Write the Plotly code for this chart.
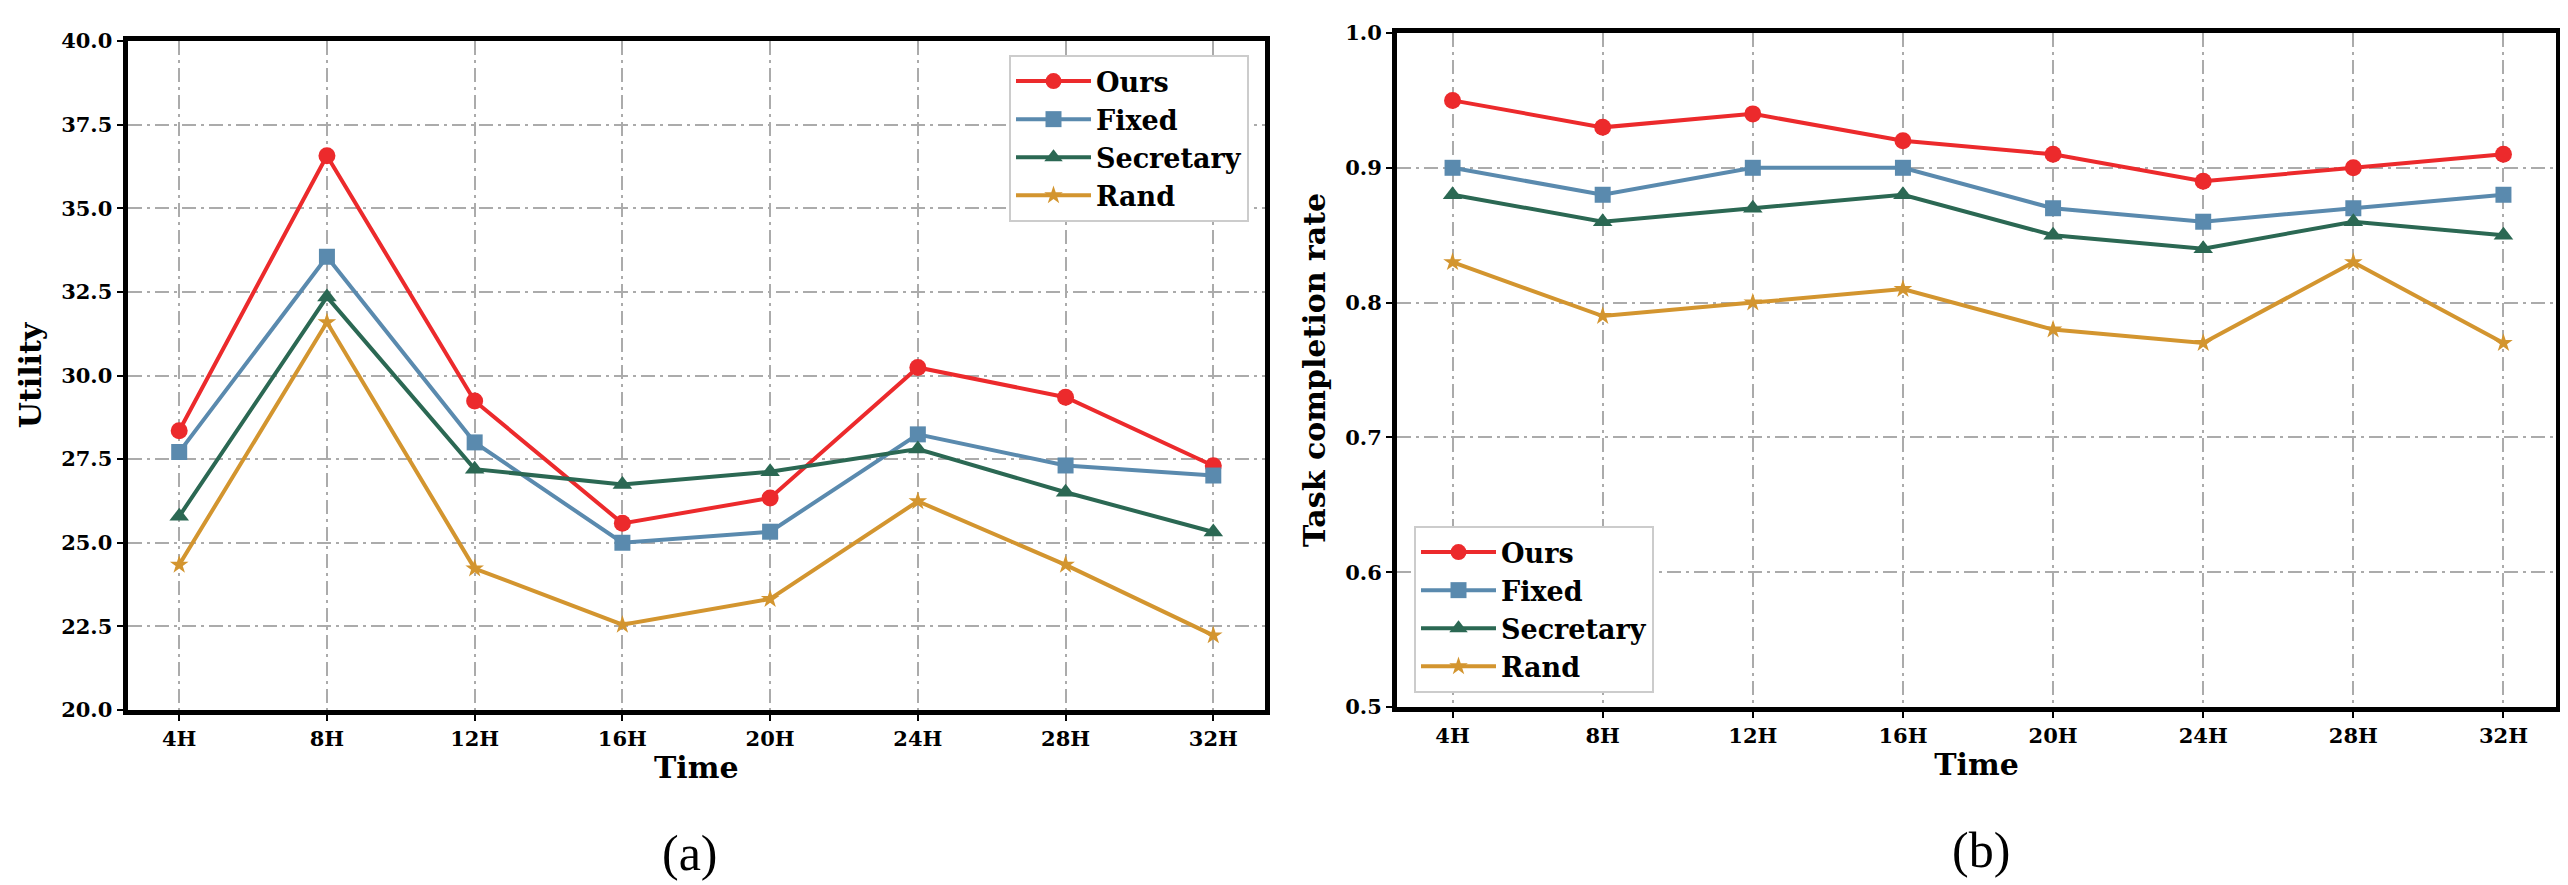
import plotly.graph_objects as go

times = ["4H", "8H", "12H", "16H", "20H", "24H", "28H", "32H"]
series_names = ["Ours", "Fixed", "Secretary", "Rand"]

# (a) Utility
util_ours = [28.35, 36.57, 29.24, 25.58, 26.34, 30.24, 29.35, 27.3]
util_fixed = [27.71, 33.55, 28.0, 25.0, 25.33, 28.24, 27.31, 27.01]
util_secretary = [25.79, 32.35, 27.2, 26.74, 27.12, 27.8, 26.51, 25.32]
util_rand = [24.34, 31.59, 24.23, 22.55, 23.32, 26.24, 24.34, 22.23]

# (b) Task completion rate
tcr_ours = [0.95, 0.93, 0.94, 0.92, 0.91, 0.89, 0.90, 0.91]
tcr_fixed = [0.90, 0.88, 0.90, 0.90, 0.87, 0.86, 0.87, 0.88]
tcr_secretary = [0.88, 0.86, 0.87, 0.88, 0.85, 0.84, 0.86, 0.85]
tcr_rand = [0.83, 0.79, 0.80, 0.81, 0.78, 0.77, 0.83, 0.77]

util_ticks = [20.0, 22.5, 25.0, 27.5, 30.0, 32.5, 35.0, 37.5, 40.0]
tcr_ticks = [0.5, 0.6, 0.7, 0.8, 0.9, 1.0]

colors = ["#EC2A2C", "#5A8AAE", "#2B6853", "#D3952F"]
symbols = ["circle", "square", "triangle-up", "star"]
msizes = [17, 16, 17, 14]

# page has an 8px body margin; figure is sized to fit the 2568x885 window
OFF = 8
W, H = 2568 - OFF, 885 - OFF


def px(p):
    return (p - OFF) / W


def py(p):
    return 1 - (p - OFF) / H


fig = go.Figure()

util_data = [util_ours, util_fixed, util_secretary, util_rand]
tcr_data = [tcr_ours, tcr_fixed, tcr_secretary, tcr_rand]

for i, name in enumerate(series_names):
    fig.add_trace(go.Scatter(
        x=times, y=util_data[i], name=name, mode="lines+markers",
        line=dict(color=colors[i], width=4),
        marker=dict(symbol=symbols[i], size=msizes[i], color=colors[i]),
        xaxis="x", yaxis="y", legend="legend",
    ))
for i, name in enumerate(series_names):
    fig.add_trace(go.Scatter(
        x=times, y=tcr_data[i], name=name, mode="lines+markers",
        line=dict(color=colors[i], width=4),
        marker=dict(symbol=symbols[i], size=msizes[i], color=colors[i]),
        xaxis="x2", yaxis="y2", legend="legend2",
    ))

tick_font = dict(family="DejaVu Serif", size=21, color="black", weight="bold")
title_font = dict(family="DejaVu Serif", size=30, color="black", weight="bold")
legend_font = dict(family="DejaVu Serif", size=27, color="black", weight="bold")
grid = dict(showgrid=True, gridcolor="#ababab", gridwidth=2, griddash="14px,5px,3px,5px")
axis_common = dict(showline=True, mirror=True, linewidth=5, linecolor="black",
                   ticks="outside", ticklen=6, tickwidth=2, tickcolor="black",
                   tickfont=tick_font, zeroline=False, automargin=False, **grid)

fig.update_layout(
    width=W, height=H,
    margin=dict(l=0, r=0, t=0, b=0),
    paper_bgcolor="white", plot_bgcolor="white",
    xaxis=dict(domain=[px(127.5), px(1265)], anchor="y", type="category",
               categoryorder="array", categoryarray=times,
               range=[-0.35, 7.35],
               title=dict(text="Time", font=title_font, standoff=8), **axis_common),
    yaxis=dict(domain=[py(710), py(41)], anchor="x", range=[20, 40],
               tickvals=util_ticks, tickformat=".1f",
               title=dict(text="Utility", font=title_font, standoff=12), **axis_common),
    xaxis2=dict(domain=[px(1397), px(2556)], anchor="y2", type="category",
                categoryorder="array", categoryarray=times,
                range=[-0.37, 7.35],
                title=dict(text="Time", font=title_font, standoff=8), **axis_common),
    yaxis2=dict(domain=[py(707), py(33)], anchor="x2", range=[0.5, 1.0],
                tickvals=tcr_ticks, tickformat=".1f",
                title=dict(text="Task completion rate", font=title_font, standoff=12), **axis_common),
    legend=dict(x=px(1249), y=py(55), xanchor="right", yanchor="top",
                bgcolor="white", bordercolor="#cccccc", borderwidth=2,
                font=legend_font, itemwidth=75),
    legend2=dict(x=px(1414), y=py(693), xanchor="left", yanchor="bottom",
                 bgcolor="white", bordercolor="#cccccc", borderwidth=2,
                 font=legend_font, itemwidth=75),
    annotations=[
        dict(text="(a)", x=px(690), y=py(853), xref="paper", yref="paper",
             showarrow=False, xanchor="center", yanchor="middle",
             font=dict(family="Liberation Serif", size=50, color="black")),
        dict(text="(b)", x=px(1981), y=py(850), xref="paper", yref="paper",
             showarrow=False, xanchor="center", yanchor="middle",
             font=dict(family="Liberation Serif", size=50, color="black")),
    ],
)

fig.write_html("out.html")
